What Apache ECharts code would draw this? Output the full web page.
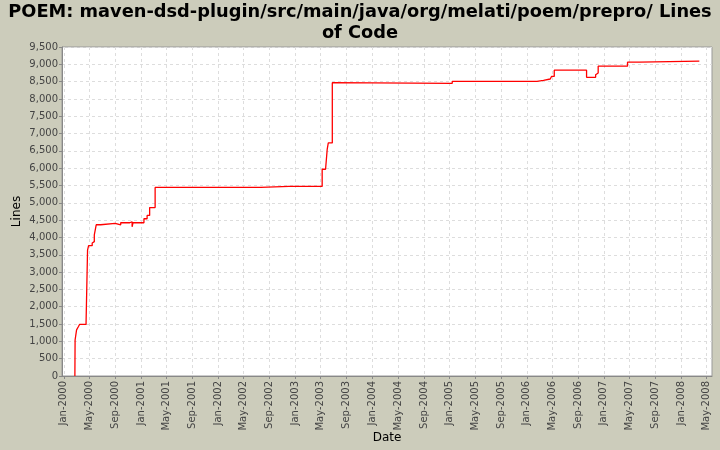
<!DOCTYPE html>
<html>
<head>
<meta charset="utf-8">
<script src="https://cdn.jsdelivr.net/npm/echarts@6/dist/echarts.min.js"></script>
<style>
html,body{margin:0;padding:0;background:#CCCCBB;}
#chart{width:720px;height:450px;}
</style>
</head>
<body>
<div id="chart"></div>
<script>
const titleText = 'POEM: maven-dsd-plugin/src/main/java/org/melati/poem/prepro/ Lines\nof Code';
const xName = 'Date';
const yName = 'Lines';

const dates = [
  '2000-02-22','2000-02-23','2000-03-01','2000-03-10','2000-03-13','2000-03-15','2000-04-15','2000-04-22','2000-04-27',
  '2000-05-14','2000-05-19','2000-05-24','2000-06-02','2000-06-23','2000-08-31','2000-09-26','2000-11-08',
  '2000-11-19','2000-11-23','2001-01-14','2001-01-29','2001-02-10','2001-03-08',
  '2002-07-20','2002-12-02','2002-12-05','2003-05-08','2003-05-24','2003-05-28','2003-06-01','2003-06-06','2003-06-25','2003-06-27',
  '2005-01-13','2006-02-18','2006-03-21','2006-04-22','2006-04-28','2006-05-11','2006-10-11','2006-11-23','2006-11-29',
  '2006-12-05','2007-04-23','2007-06-19','2008-03-28'
];
const lines = [
  0,1040,1333,1430,1460,1488,1555,3637,3763,
  3841,3880,4075,4367,4405,4367,4425,4454,
  4308,4425,4541,4638,4862,5446,
  5475,5450,5475,5970,6000,5980,6553,6729,8470,8450,
  8510,8538,8576,8614,8650,8830,8625,8700,8750,
  8946,9063,9092,9092
];

const tickLabels = [
  'Jan-2000','May-2000','Sep-2000','Jan-2001','May-2001','Sep-2001','Jan-2002','May-2002','Sep-2002',
  'Jan-2003','May-2003','Sep-2003','Jan-2004','May-2004','Sep-2004','Jan-2005','May-2005','Sep-2005',
  'Jan-2006','May-2006','Sep-2006','Jan-2007','May-2007','Sep-2007','Jan-2008','May-2008'
];
const xMin = '1999-12-23';
const xMax = '2008-05-27';

const monthNames = ['Jan','Feb','Mar','Apr','May','Jun','Jul','Aug','Sep','Oct','Nov','Dec'];
function parseTick(s){
  const [m,y] = s.split('-');
  return Date.UTC(+y, monthNames.indexOf(m), 1);
}
function parseDay(s){
  const [y,m,d] = s.split('-').map(Number);
  return Date.UTC(y, m-1, d);
}
const tickValues = tickLabels.map(parseTick);
const labelByValue = {};
tickValues.forEach((v,i)=>{ labelByValue[v] = tickLabels[i]; });
const seriesData = dates.map((d,i)=>[parseDay(d), lines[i]]);

const chart = echarts.init(document.getElementById('chart'));
chart.setOption({
  backgroundColor: '#CCCCBB',
  animation: false,
  title: {
    text: titleText,
    left: 'center',
    top: 2,
    padding: 0,
    textStyle: {fontFamily: 'DejaVu Sans', fontWeight: 'bold', fontSize: 17.8, color: '#000', lineHeight: 21}
  },
  grid: {
    left: 62, right: 8, top: 47, bottom: 74,
    outerBoundsMode: 'none',
    containLabel: false,
    show: true, backgroundColor: '#FFFFFF', borderColor: '#999999', borderWidth: 1
  },
  xAxis: {
    type: 'value',
    min: parseDay(xMin),
    max: parseDay(xMax),
    name: xName,
    nameLocation: 'middle',
    nameGap: 56,
    nameMoveOverlap: false,
    nameTextStyle: {fontFamily: 'DejaVu Sans', fontSize: 12, color: '#000'},
    axisLine: {show: true, onZero: false, lineStyle: {color: '#888888'}},
    axisTick: {show: true, customValues: tickValues, length: 3, lineStyle: {color: '#888888'}},
    axisLabel: {
      customValues: tickValues,
      rotate: 90,
      fontFamily: 'DejaVu Sans',
      fontSize: 10,
      color: '#444444',
      margin: 5,
      formatter: function(v){ return labelByValue[v] || ''; }
    },
    splitLine: {show: true, lineStyle: {color: '#DDDDDD', type: [3,3], width: 1}}
  },
  yAxis: {
    type: 'value',
    min: 0, max: 9500, interval: 500,
    name: yName,
    nameLocation: 'middle',
    nameGap: 39,
    nameMoveOverlap: false,
    nameTextStyle: {fontFamily: 'DejaVu Sans', fontSize: 12, color: '#000'},
    axisLine: {show: true, lineStyle: {color: '#888888'}},
    axisTick: {show: true, length: 3, lineStyle: {color: '#888888'}},
    axisLabel: {
      fontFamily: 'DejaVu Sans', fontSize: 10, color: '#444444', margin: 4,
      formatter: function(v){ return v.toLocaleString('en-US'); }
    },
    splitLine: {show: true, lineStyle: {color: '#DDDDDD', type: [3,3], width: 1}}
  },
  series: [{
    type: 'line',
    step: 'end',
    smooth: false,
    data: seriesData,
    showSymbol: false,
    lineStyle: {color: '#FF0000', width: 1.3},
    itemStyle: {color: '#FF0000'}
  }]
});
</script>
</body>
</html>
